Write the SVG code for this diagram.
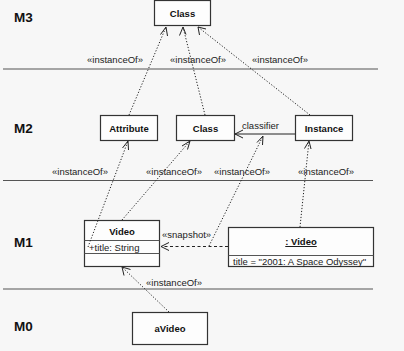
<svg xmlns="http://www.w3.org/2000/svg" width="404" height="351" viewBox="0 0 404 351">
<defs>
<style>
.bg{fill:#f7f7f7}
.box{fill:#fdfdfd;stroke:#333;stroke-width:1.2}
.sep{stroke:#555;stroke-width:1.2}
.lvl{font-family:"Liberation Sans",Arial,sans-serif;font-weight:bold;font-size:13.5px;fill:#111}
.nm{font-family:"Liberation Sans",Arial,sans-serif;font-weight:bold;font-size:9.5px;fill:#111;text-anchor:middle}
.lb{font-family:"Liberation Sans",Arial,sans-serif;font-size:9.5px;fill:#222}
.dot{fill:none;stroke:#222;stroke-width:1;stroke-dasharray:1.2,1.8}
.dash{fill:none;stroke:#222;stroke-width:1;stroke-dasharray:3,2.5}
.sol{fill:none;stroke:#222;stroke-width:1}
.hd{fill:none;stroke:#222;stroke-width:1}
</style>
</defs>
<rect class="bg" x="0" y="0" width="404" height="351"/>
<g id="levels">
<line class="sep" x1="3" y1="69" x2="378" y2="69"/>
<line class="sep" x1="3" y1="180.5" x2="373" y2="180.5"/>
<line class="sep" x1="3" y1="289" x2="373" y2="289"/>
<text class="lvl" x="14" y="22">M3</text>
<text class="lvl" x="14" y="133">M2</text>
<text class="lvl" x="14" y="247">M1</text>
<text class="lvl" x="14" y="331">M0</text>
</g>
<g id="m3-class">
<rect class="box" x="154.5" y="0.5" width="56" height="25"/>
<text class="nm" x="182.5" y="17">Class</text>
</g>
<g id="m2-attribute">
<rect class="box" x="100.5" y="115.5" width="57" height="25"/>
<text class="nm" x="129" y="131.5">Attribute</text>
</g>
<g id="m2-class">
<rect class="box" x="176.5" y="115.5" width="58" height="25"/>
<text class="nm" x="205.5" y="131.5">Class</text>
</g>
<g id="m2-instance">
<rect class="box" x="295.5" y="115.5" width="57" height="25"/>
<text class="nm" x="324" y="131.5">Instance</text>
</g>
<g id="m1-video">
<rect class="box" x="84.5" y="220.5" width="75" height="46"/>
<line class="sep" x1="84.5" y1="240.5" x2="159.5" y2="240.5"/>
<line class="sep" x1="84.5" y1="253.5" x2="159.5" y2="253.5"/>
<text class="nm" x="122" y="234.5">Video</text>
<text class="lb" x="89" y="250.5">+title: String</text>
</g>
<g id="m1-video-instance">
<rect class="box" x="228.5" y="227.5" width="145" height="39"/>
<line class="sep" x1="228.5" y1="255.5" x2="373.5" y2="255.5"/>
<text class="nm" x="301" y="245" text-decoration="underline">: Video</text>
<text class="lb" x="233" y="264.5">title = "2001: A Space Odyssey"</text>
</g>
<g id="m0-avideo">
<rect class="box" x="132.5" y="312.5" width="75" height="32"/>
<text class="nm" x="170" y="332">aVideo</text>
</g>
<g id="connectors">
<!-- M2 -> M3 -->
<line class="dot" x1="129" y1="115" x2="166" y2="27"/>
<polyline class="hd" points="160.5,34.5 166,27 167.5,36"/>
<line class="dot" x1="205" y1="115" x2="183" y2="27"/>
<polyline class="hd" points="179.5,35.5 183,27 186,34.5"/>
<line class="dot" x1="310" y1="115" x2="198" y2="27"/>
<polyline class="hd" points="199.5,35 198,27 206,29"/>
<text class="lb" x="87" y="63">«instanceOf»</text>
<text class="lb" x="170" y="63">«instanceOf»</text>
<text class="lb" x="252" y="63">«instanceOf»</text>
<!-- classifier -->
<line class="sol" x1="295" y1="134" x2="235" y2="134"/>
<polyline class="hd" points="243,130 235,134 243,138"/>
<text class="lb" x="242" y="129">classifier</text>
<!-- M1 -> M2 -->
<line class="dot" x1="88" y1="247" x2="128" y2="141"/>
<polyline class="hd" points="122.5,148 128,141 128.5,150"/>
<line class="dot" x1="122" y1="220" x2="190" y2="141"/>
<polyline class="hd" points="182,146 190,141 187.5,149.5"/>
<line class="dot" x1="209" y1="246" x2="263" y2="136"/>
<polyline class="hd" points="257,142.5 263,136 262.5,145"/>
<line class="dot" x1="300" y1="227" x2="309" y2="141"/>
<polyline class="hd" points="304.5,148.5 309,141 311,149"/>
<text class="lb" x="52" y="175">«instanceOf»</text>
<text class="lb" x="146" y="175">«instanceOf»</text>
<text class="lb" x="214" y="175">«instanceOf»</text>
<text class="lb" x="298" y="175">«instanceOf»</text>
<!-- snapshot -->
<line class="dash" x1="228" y1="246.5" x2="161" y2="246.5"/>
<polyline class="hd" points="169,242.5 161,246.5 169,250.5"/>
<text class="lb" x="162" y="237.5">«snapshot»</text>
<!-- M0 -> M1 -->
<line class="dot" x1="169" y1="312" x2="122" y2="267"/>
<polyline class="hd" points="124,275.5 122,267 130.5,269.5"/>
<text class="lb" x="146" y="286">«instanceOf»</text>
</g>
</svg>
